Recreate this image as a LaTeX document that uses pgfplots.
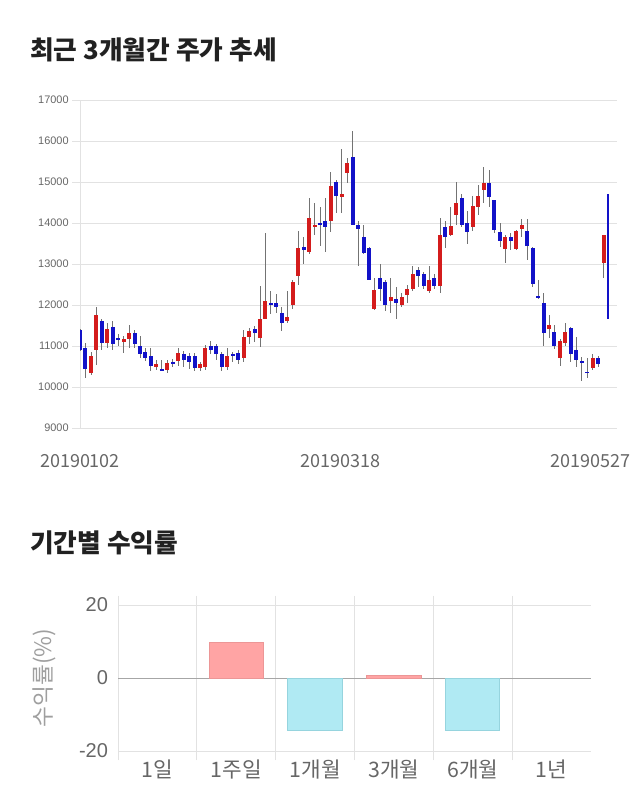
\documentclass[border=0pt]{standalone}
\usepackage{pgfplots}
\pgfplotsset{compat=1.18}
\usepackage{pgfplotstable}
\usepackage{fontspec}
\setmainfont{Noto Sans CJK KR}
\newfontfamily\lib{Liberation Sans}
\definecolor{candred}{RGB}{212,28,28}
\definecolor{candblue}{RGB}{18,18,200}
\definecolor{wick}{RGB}{115,115,115}
\definecolor{gridc}{RGB}{226,226,226}
\definecolor{labc}{RGB}{102,102,102}
\definecolor{pinkbar}{RGB}{255,164,164}
\definecolor{pinkedge}{RGB}{236,150,150}
\definecolor{cyanbar}{RGB}{176,234,243}
\definecolor{cyanedge}{RGB}{150,212,222}

\pgfplotstableread{
i o h l c
0 11400 11420 10880 10900
1 10950 11070 10210 10450
2 10350 10850 10300 10750
3 10900 11960 10540 11750
4 11600 11650 10900 11070
5 11070 11550 10950 11420
6 11470 11600 10900 11050
7 11200 11300 11000 11150
8 11100 11250 10820 11160
9 11160 11510 10950 11310
10 11310 11400 10950 11050
11 11000 11240 10700 10800
12 10860 10950 10630 10700
13 10750 10950 10400 10510
14 10500 10650 10420 10560
15 10430 10650 10380 10400
16 10420 10650 10330 10590
17 10610 10680 10500 10560
18 10640 10950 10520 10820
19 10800 10870 10500 10660
20 10760 10820 10450 10620
21 10750 10820 10380 10460
22 10460 10620 10400 10560
23 10500 11020 10420 10960
24 11000 11130 10800 10900
25 11000 11050 10650 10800
26 10800 10860 10400 10500
27 10500 10950 10420 10760
28 10800 10860 10600 10760
29 10840 10900 10550 10660
30 10700 11400 10620 11210
31 11210 11430 11050 11370
32 11410 11500 11100 11310
33 11200 12460 10970 11650
34 11650 13760 11650 12100
35 12050 12350 11780 12000
36 12050 12270 11800 11950
37 11800 11950 11370 11550
38 11600 12350 11550 11700
39 12000 12600 11900 12550
40 12700 13800 12500 13400
41 13410 13650 13000 13350
42 13300 14620 13250 14110
43 13910 14500 13700 13950
44 14000 14380 13440 13940
45 14060 14600 13300 13900
46 14060 15250 13790 14900
47 15000 15050 14250 14660
48 14640 15800 14250 14710
49 15210 15580 14970 15470
50 15620 16250 13950 13950
51 13950 14050 12940 13850
52 13670 13950 13250 13260
53 13400 13420 12600 12610
54 11900 12650 11880 12370
55 12650 13000 12100 12400
56 12550 12600 11850 12000
57 12100 12650 11800 12200
58 12150 12450 11650 12050
59 12000 12300 11950 12200
60 12250 12480 12040 12400
61 12400 12940 12350 12750
62 12850 12930 12450 12710
63 12750 12800 12380 12460
64 12350 12950 12300 12610
65 12650 12750 12380 12460
66 12460 14110 12300 13700
67 13900 14060 13400 13650
68 13700 14400 13680 13930
69 14200 15010 13950 14500
70 14600 14700 13900 13950
71 14000 14300 13500 13790
72 13900 14650 13800 14420
73 14400 14930 14200 14660
74 14800 15360 14500 14970
75 14970 15290 14400 14640
76 14550 14560 13750 13830
77 13770 13990 13420 13550
78 13360 13700 13020 13650
79 13650 13750 13350 13560
80 13360 13830 13350 13800
81 13850 14090 13670 13950
82 13800 14090 13110 13450
83 13400 13410 12450 12510
84 12220 12610 12140 12170
85 12050 12300 11000 11310
86 11410 11760 11190 11510
87 11350 11510 10920 11000
88 10700 11160 10510 11110
89 11080 11550 11000 11350
90 11450 11460 10620 10800
91 10900 11230 10500 10660
92 10630 10740 10150 10600
93 10370 10700 10230 10340
94 10460 10800 10420 10700
95 10700 10760 10480 10560
96 13020 13710 12650 13700
97 14700 14740 11650 11650
}\candles

\begin{document}
\begin{tikzpicture}
\path[use as bounding box] (0,0) rectangle (480pt,-607.5pt);

\node[anchor=west, inner sep=0pt, font=\fontsize{19.3}{22}\selectfont\bfseries, text=black!87] at (22.5pt,-37.5pt) {최근 3개월간 주가 추세};
\node[anchor=west, inner sep=0pt, font=\fontsize{19.3}{22}\selectfont\bfseries, text=black!87] at (22.5pt,-407pt) {기간별 수익률};

\begin{axis}[
  at={(60pt,-321pt)}, anchor=south west, scale only axis,
  width=396.75pt, height=246pt,
  xmin=0, xmax=97, ymin=9000, ymax=17000,
  ytick={9000,10000,...,17000},
  scaled y ticks=false,
  xtick={0,47.7,93.6}, xticklabels={20190102,20190318,20190527},
  axis line style={draw=none},
  ymajorgrids, grid style={draw=gridc, line width=0.75pt},
  tick align=outside, major tick length=6pt,
  ytick style={draw=gridc, line width=0.75pt},
  xtick style={draw=none},
  extra x ticks={0}, extra x tick labels={},
  extra x tick style={grid=major, major tick length=0pt},
  /pgf/number format/1000 sep={},
  /pgf/number format/assume math mode=true,
  yticklabel style={font=\lib\fontsize{8.2}{9}\selectfont, text=labc, xshift=1pt},
  xticklabel style={font=\fontsize{13.5}{15}\selectfont, text=labc, yshift=-10pt},
]
\addplot[draw=none, mark=none,
  error bars/.cd, y dir=both, y explicit, error mark=none,
  error bar style={line width=0.6pt, draw=wick}]
  table[x=i, y expr={(\thisrow{h}+\thisrow{l})/2}, y error expr={(\thisrow{h}-\thisrow{l})/2}]{\candles};
\addplot[draw=none, mark=none,
  restrict expr to domain={\thisrow{c}-\thisrow{o}}{0:100000},
  error bars/.cd, y dir=both, y explicit, error mark=none,
  error bar style={line width=3pt, draw=candred}]
  table[x=i, y expr={(\thisrow{o}+\thisrow{c})/2}, y error expr={abs(\thisrow{c}-\thisrow{o})/2}]{\candles};
\addplot[draw=none, mark=none,
  restrict expr to domain={\thisrow{c}-\thisrow{o}}{-100000:-1},
  error bars/.cd, y dir=both, y explicit, error mark=none,
  error bar style={line width=3pt, draw=candblue}]
  table[x=i, y expr={(\thisrow{o}+\thisrow{c})/2}, y error expr={abs(\thisrow{c}-\thisrow{o})/2}]{\candles};
\end{axis}

\begin{axis}[
  at={(88.5pt,-563.25pt)}, anchor=south west, scale only axis,
  width=354.75pt, height=109.5pt,
  xmin=-0.5, xmax=5.5, ymin=-20, ymax=20,
  ytick={-20,20}, extra y ticks={0},
  extra y tick style={major grid style={draw=gray!70, line width=0.75pt}},
  xtick={0,...,5}, xticklabels={1일,1주일,1개월,3개월,6개월,1년},
  minor xtick={-0.5,0.5,1.5,2.5,3.5,4.5},
  xminorgrids, ymajorgrids,
  major grid style={draw=gridc, line width=0.75pt},
  minor grid style={draw=gridc, line width=0.75pt},
  axis line style={draw=none},
  tick align=outside, major tick length=0pt, minor tick length=7pt,
  xtick style={draw=none}, ytick style={draw=none},
  minor x tick style={draw=gridc, line width=0.75pt},
  /pgf/number format/assume math mode=true,
  yticklabel style={font=\lib\fontsize{15}{17}\selectfont, text=labc, xshift=-4pt},
  xticklabel style={font=\fontsize{16}{18}\selectfont, text=labc, yshift=-3pt},
  ylabel={수익률(\%)},
  every axis y label/.style={at={(axis description cs:-0.155,0.5)}, rotate=90, anchor=center,
    font=\fontsize{17}{19}\selectfont, text=gray!75},
]
\addplot[ybar, bar width=0.69, bar shift=0pt, fill=pinkbar, draw=pinkedge, line width=0.75pt]
  coordinates {(1,9.8) (3,0.7)};
\addplot[ybar, bar width=0.69, bar shift=0pt, fill=cyanbar, draw=cyanedge, line width=0.75pt]
  coordinates {(2,-14.3) (4,-14.3)};
\end{axis}
\end{tikzpicture}
\end{document}
